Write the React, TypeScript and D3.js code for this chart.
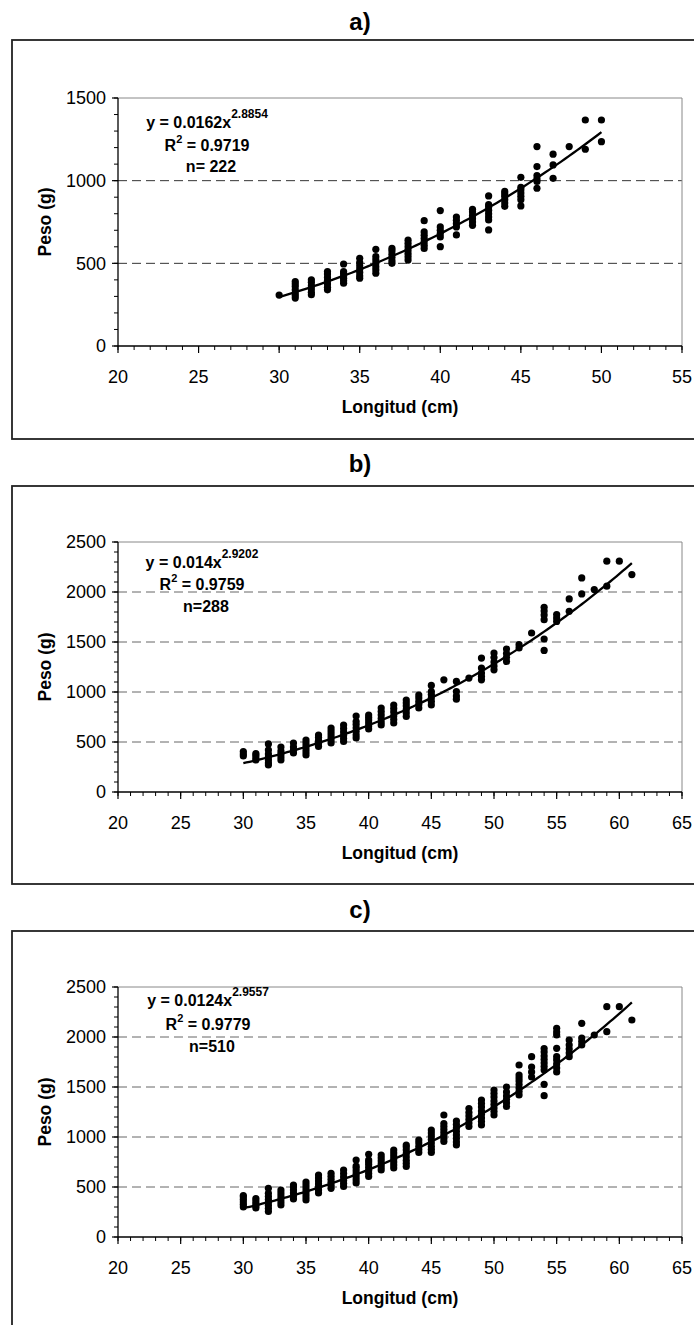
import React from "react";
import * as d3 from "d3";

// ---------- DATA ----------
const lengthsA = [30, 31, 32, 33, 34, 35, 36, 37, 38, 39, 40, 41, 42, 43, 44, 45, 46, 47, 48, 49, 50];
const weightsA = [
  [308],
  [290, 305, 320, 340, 360, 375, 390],
  [310, 325, 345, 365, 385, 400],
  [340, 355, 375, 395, 415, 435, 450],
  [380, 395, 410, 425, 440, 450, 496],
  [410, 425, 445, 465, 485, 505, 530],
  [440, 460, 480, 500, 520, 540, 585],
  [500, 515, 535, 555, 575, 590],
  [520, 540, 560, 580, 600, 620, 640],
  [590, 610, 630, 650, 670, 690, 758],
  [601, 660, 680, 700, 720, 819],
  [672, 720, 740, 760, 780],
  [730, 750, 770, 790, 810, 827],
  [702, 762, 780, 800, 820, 840, 855, 908],
  [845, 865, 885, 905, 920, 935],
  [847, 885, 905, 925, 945, 960, 1020],
  [954, 995, 1010, 1030, 1085, 1206],
  [1014, 1095, 1160],
  [1206],
  [1190, 1367],
  [1236, 1367],
];

const lengthsB = [30, 31, 32, 33, 34, 35, 36, 37, 38, 39, 40, 41, 42, 43, 44, 45, 46, 47, 48, 49, 50, 51, 52, 53, 54, 55, 56, 57, 58, 59, 60, 61];
const weightsB = [
  [360, 380, 405],
  [320, 340, 365, 385],
  [270, 290, 320, 350, 380, 420, 481],
  [320, 350, 380, 410, 450],
  [390, 420, 450, 490],
  [370, 400, 430, 460, 490, 520],
  [455, 485, 515, 545, 570],
  [490, 520, 550, 580, 610, 640],
  [505, 535, 565, 600, 635, 670],
  [540, 570, 605, 640, 675, 705, 760],
  [630, 660, 690, 720, 745, 770],
  [670, 700, 735, 770, 805, 840],
  [690, 725, 760, 800, 835, 870],
  [755, 790, 825, 860, 890, 920],
  [840, 875, 905, 940, 970],
  [870, 905, 940, 975, 1005, 1066],
  [1122],
  [928, 960, 1005, 1106],
  [1139],
  [1122, 1155, 1190, 1239, 1339],
  [1222, 1260, 1300, 1345, 1389],
  [1306, 1345, 1385, 1430],
  [1440, 1473],
  [1590],
  [1416, 1530, 1723, 1770, 1810, 1847],
  [1706, 1740, 1774],
  [1807, 1931],
  [1981, 2141],
  [2024],
  [2058, 2308],
  [2308],
  [2174],
];

const lengthsC = [30, 31, 32, 33, 34, 35, 36, 37, 38, 39, 40, 41, 42, 43, 44, 45, 46, 47, 48, 49, 50, 51, 52, 53, 54, 55, 56, 57, 58, 59, 60, 61];
const weightsC = [
  [300, 325, 350, 375, 400, 415],
  [290, 310, 335, 360, 385],
  [255, 285, 315, 345, 375, 405, 437, 487],
  [320, 350, 380, 410, 440, 470],
  [380, 410, 440, 470, 500, 520],
  [370, 400, 430, 460, 490, 520, 550],
  [440, 470, 500, 530, 560, 590, 620],
  [487, 517, 547, 577, 607, 637],
  [505, 535, 565, 600, 635, 670],
  [540, 570, 600, 630, 660, 690, 710, 770],
  [605, 635, 665, 695, 725, 750, 770, 827],
  [670, 700, 730, 760, 790, 820],
  [690, 720, 750, 780, 810, 840, 870],
  [705, 735, 765, 800, 835, 870, 900, 920],
  [845, 875, 905, 940, 970],
  [845, 875, 905, 940, 975, 1010, 1040, 1070],
  [955, 985, 1015, 1045, 1075, 1105, 1135, 1220],
  [920, 950, 985, 1020, 1055, 1090, 1125, 1160],
  [1105, 1140, 1175, 1210, 1245, 1285],
  [1120, 1155, 1190, 1225, 1260, 1300, 1335, 1370],
  [1220, 1255, 1290, 1325, 1360, 1400, 1435, 1470],
  [1305, 1340, 1375, 1410, 1450, 1500],
  [1420, 1455, 1490, 1525, 1560, 1590, 1620, 1720],
  [1600, 1650, 1700, 1803],
  [1413, 1527, 1670, 1705, 1740, 1775, 1810, 1850, 1885],
  [1650, 1690, 1730, 1770, 1803, 1887, 2020, 2050, 2087],
  [1803, 1840, 1880, 1920, 1970],
  [1920, 1955, 1990, 2137],
  [2020],
  [2053, 2303],
  [2303],
  [2170],
];

const panelTitles = ["a)", "b)", "c)"];
const fitCoefA = [0.0162, 2.8854];
const fitCoefB = [0.014, 2.9202];
const fitCoefC = [0.0124, 2.9557];
const coefLabels = ["0.0162", "0.014", "0.0124"];
const expLabels = ["2.8854", "2.9202", "2.9557"];
const r2Labels = ["0.9719", "0.9759", "0.9779"];
const nLabels = ["n= 222", "n=288", "n=510"];
const xDomains = [[20, 55], [20, 65], [20, 65]];
const yDomains = [[0, 1500], [0, 2500], [0, 2500]];
const xLabel = "Longitud (cm)";
const yLabel = "Peso (g)";

// ---------- LAYOUT ----------
const W = 694;
const H = 1325;
const PL = 118;
const PR = 682;
const layouts = [
  { frameTop: 40, frameBottom: 439, plotTop: 98, plotBottom: 346, titleY: 30, ann: [30, 53, 74], annX: 207, grid: "#333" },
  { frameTop: 486, frameBottom: 884, plotTop: 542, plotBottom: 792, titleY: 472, ann: [26, 48, 70], annX: 202, grid: "#666" },
  { frameTop: 931, frameBottom: 1340, plotTop: 987, plotBottom: 1237, titleY: 918, ann: [19, 43, 65], annX: 208, grid: "#666" },
];

const FONT = "Arial, 'Liberation Sans', Helvetica, sans-serif";

function Panel({ idx, lengths, weights, coef }) {
  const L = layouts[idx];
  const x = d3.scaleLinear().domain(xDomains[idx]).range([PL, PR]);
  const y = d3.scaleLinear().domain(yDomains[idx]).range([L.plotBottom, L.plotTop]);
  const [x0, x1] = xDomains[idx];
  const [, yMax] = yDomains[idx];
  const majorX = d3.range(x0, x1 + 0.001, 5);
  const minorX = d3.range(x0, x1 + 0.001, 1);
  const majorY = d3.range(0, yMax + 0.001, 500);
  const minorY = d3.range(0, yMax + 0.001, 100);
  const pts = [];
  lengths.forEach((len, i) => weights[i].forEach((w) => pts.push([len, w])));
  const fx = d3.range(d3.min(lengths), d3.max(lengths) + 0.001, 0.25);
  const line = d3.line().x((d) => x(d[0])).y((d) => y(d[1]));
  const fitPts = fx.map((v) => [v, coef[0] * Math.pow(v, coef[1])]);
  const midY = (L.plotTop + L.plotBottom) / 2;
  return (
    <g>
      <text x={360} y={L.titleY} textAnchor="middle" fontFamily={FONT} fontWeight="bold" fontSize={24}>
        {panelTitles[idx]}
      </text>
      <rect x={12} y={L.frameTop} width={W + 20} height={L.frameBottom - L.frameTop} fill="white" stroke="#222" strokeWidth={1.8} />
      {majorY.filter((v) => v > 0 && v < yMax).map((v) => (
        <line key={"g" + v} x1={PL} x2={PR} y1={y(v)} y2={y(v)} stroke={L.grid} strokeWidth={1} strokeDasharray="9,5" />
      ))}
      <line x1={PL} x2={PR} y1={L.plotTop} y2={L.plotTop} stroke="#888" strokeWidth={1} />
      <line x1={PR} x2={PR} y1={L.plotTop} y2={L.plotBottom} stroke="#888" strokeWidth={1} />
      <line x1={PL} x2={PL} y1={L.plotTop} y2={L.plotBottom} stroke="#000" strokeWidth={1.3} />
      <line x1={PL} x2={PR} y1={L.plotBottom} y2={L.plotBottom} stroke="#000" strokeWidth={1.3} />
      {minorY.map((v) => (
        <line key={"my" + v} x1={PL - 4} x2={PL} y1={y(v)} y2={y(v)} stroke="#000" strokeWidth={1} />
      ))}
      {majorY.map((v) => (
        <g key={"Y" + v}>
          <line x1={PL - 6} x2={PL} y1={y(v)} y2={y(v)} stroke="#000" strokeWidth={1.2} />
          <text x={PL - 12} y={y(v)} dy="0.36em" textAnchor="end" fontFamily={FONT} fontSize={18}>
            {v}
          </text>
        </g>
      ))}
      {minorX.map((v) => (
        <line key={"mx" + v} x1={x(v)} x2={x(v)} y1={L.plotBottom} y2={L.plotBottom + 4} stroke="#000" strokeWidth={1} />
      ))}
      {majorX.map((v) => (
        <g key={"X" + v}>
          <line x1={x(v)} x2={x(v)} y1={L.plotBottom} y2={L.plotBottom + 7} stroke="#000" strokeWidth={1.2} />
          <text x={x(v)} y={L.plotBottom + 37} textAnchor="middle" fontFamily={FONT} fontSize={18}>
            {v}
          </text>
        </g>
      ))}
      {pts.map((p, i) => (
        <circle key={"p" + i} cx={x(p[0])} cy={y(p[1])} r={3.6} fill="#000" />
      ))}
      <path d={line(fitPts)} fill="none" stroke="#000" strokeWidth={2.3} />
      <text x={L.annX} y={L.plotTop + L.ann[0]} textAnchor="middle" fontFamily={FONT} fontWeight="bold" fontSize={16}>
        <tspan>{"y = " + coefLabels[idx] + "x"}</tspan>
        <tspan dy={-10} fontSize={12}>{expLabels[idx]}</tspan>
      </text>
      <text x={L.annX} y={L.plotTop + L.ann[1]} textAnchor="middle" fontFamily={FONT} fontWeight="bold" fontSize={16}>
        <tspan>R</tspan>
        <tspan dy={-8} fontSize={11}>2</tspan>
        <tspan dy={8}>{" = " + r2Labels[idx]}</tspan>
      </text>
      <text x={L.annX + 4} y={L.plotTop + L.ann[2]} textAnchor="middle" fontFamily={FONT} fontWeight="bold" fontSize={16}>
        {nLabels[idx]}
      </text>
      <text x={(PL + PR) / 2} y={L.plotBottom + 67} textAnchor="middle" fontFamily={FONT} fontWeight="bold" fontSize={17.5}>
        {xLabel}
      </text>
      <text transform={`translate(51,${midY}) rotate(-90)`} textAnchor="middle" fontFamily={FONT} fontWeight="bold" fontSize={17.5}>
        {yLabel}
      </text>
    </g>
  );
}

export default function App() {
  return (
    <svg width={W} height={H} style={{ position: "absolute", left: 0, top: 0, background: "white" }}>
      <rect x={0} y={0} width={W} height={H} fill="white" />
      <Panel idx={0} lengths={lengthsA} weights={weightsA} coef={fitCoefA} />
      <Panel idx={1} lengths={lengthsB} weights={weightsB} coef={fitCoefB} />
      <Panel idx={2} lengths={lengthsC} weights={weightsC} coef={fitCoefC} />
    </svg>
  );
}
